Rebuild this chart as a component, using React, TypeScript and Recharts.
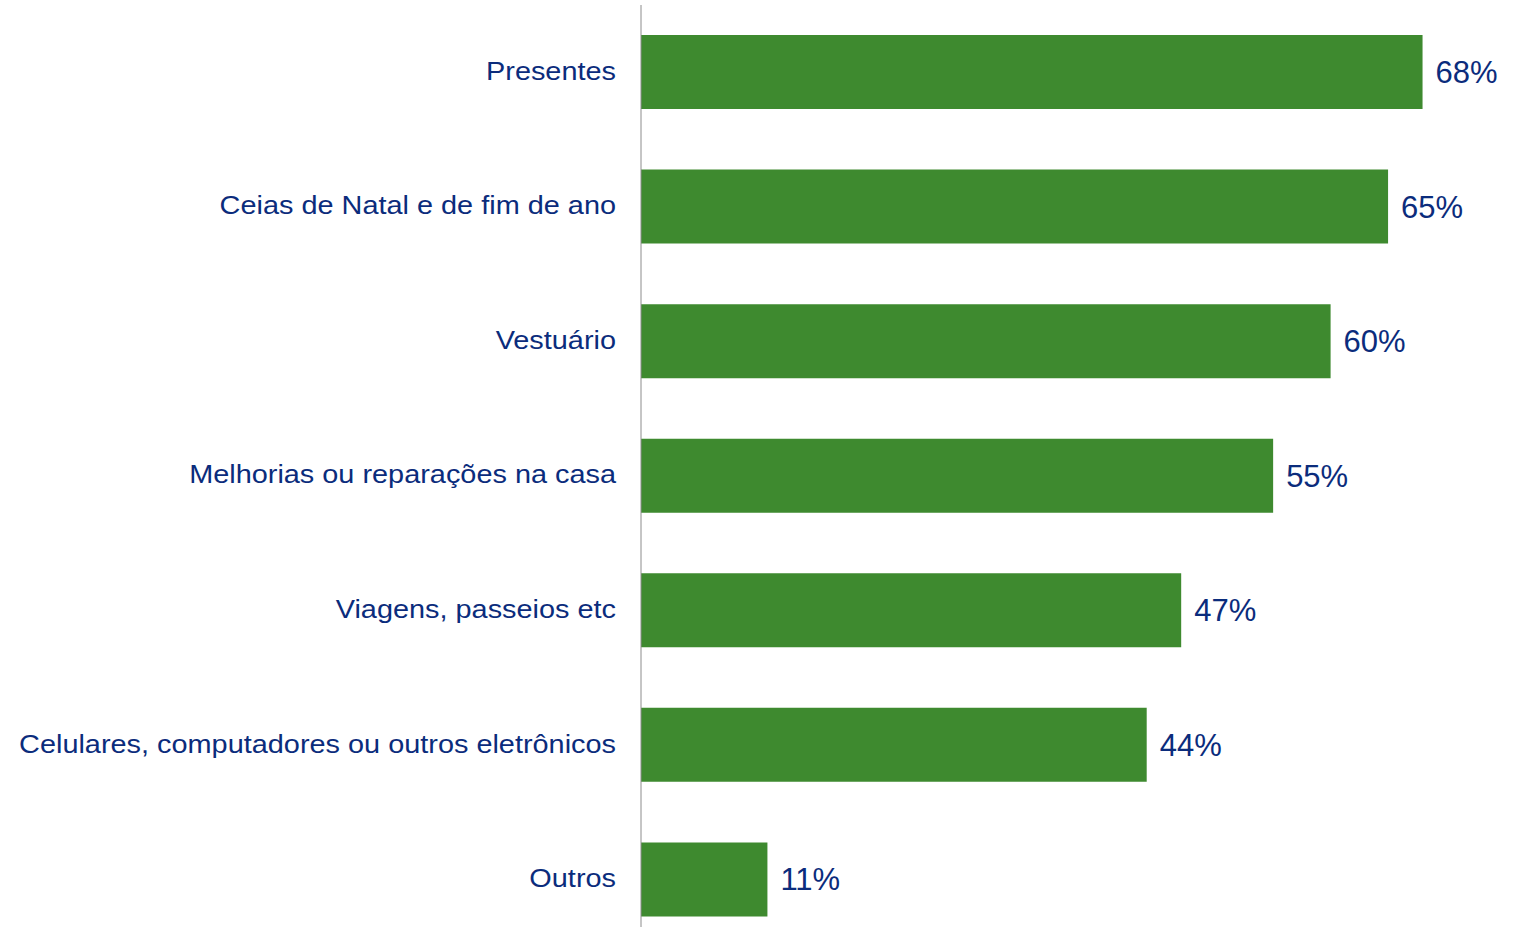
import React from 'react';
import { BarChart, Bar, XAxis, YAxis, LabelList } from 'recharts';

const categories = [
	'Presentes',
	'Ceias de Natal e de fim de ano',
	'Vestuário',
	'Melhorias ou reparações na casa',
	'Viagens, passeios etc',
	'Celulares, computadores ou outros eletrônicos',
	'Outros',
];
const values = [68, 65, 60, 55, 47, 44, 11];

const data = categories.map((name, i) => ({ name, value: values[i] }));

const NAVY = '#0B2C7C';
const GREEN = '#3E8A2F';

// the source labels are a slightly widened Arial
const CategoryTick = ({ x, y, payload }: { x?: number; y?: number; payload?: any }) => (
	<text
		transform={`translate(${x},${y}) scale(1.155,1)`}
		x={0}
		y={0}
		dy={7.4}
		textAnchor='end'
		fill={NAVY}
		fontSize={25}
	>
		{payload.value}
	</text>
);

export default function App() {
	return (
		<div
			style={{
				position: 'absolute',
				top: 0,
				left: 0,
				fontFamily: '"Liberation Sans", Arial, sans-serif',
			}}
		>
			<BarChart
				width={1521}
				height={947}
				data={data}
				layout='vertical'
				margin={{ top: 5, right: 18, bottom: 0, left: 0 }}
			>
				<XAxis type='number' domain={[0, 75]} hide />
				<YAxis
					type='category'
					dataKey='name'
					width={641}
					tickLine={false}
					tickSize={0}
					tickMargin={25}
					axisLine={{ stroke: '#8c8c8c', strokeWidth: 1 }}
					tick={<CategoryTick />}
					interval={0}
				/>
				<Bar dataKey='value' fill={GREEN} barSize={74} isAnimationActive={false}>
					<LabelList
						dataKey='value'
						position='right'
						offset={13}
						fill={NAVY}
						fontSize={31}
						formatter={(v: any) => `${v}%`}
					/>
				</Bar>
			</BarChart>
		</div>
	);
}
